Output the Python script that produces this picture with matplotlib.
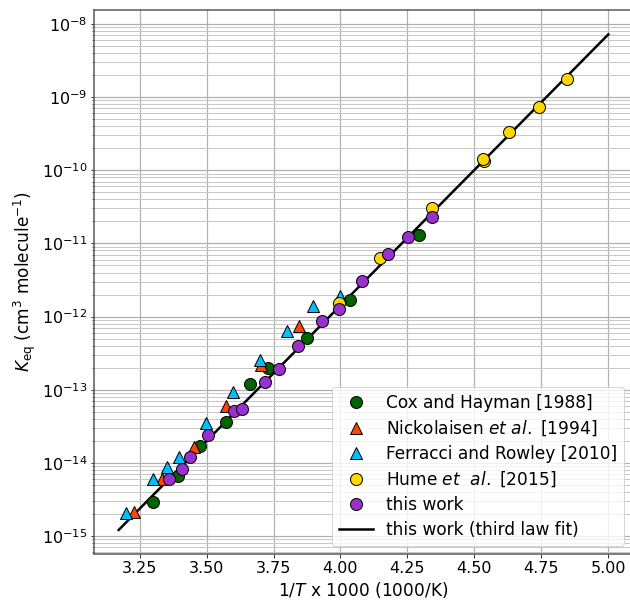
import numpy as np
import matplotlib
matplotlib.use("Agg")
from matplotlib import pyplot as plt

plt.rcParams['font.size'] = 17
plt.rcParams['xtick.labelsize'] = 16
plt.rcParams['ytick.labelsize'] = 16

# 1000/T values and K_eq (cm3 molecule-1)
cox_x = [3.300, 3.392, 3.476, 3.572, 3.663, 3.731, 3.876, 4.034, 4.294]
cox_k = [2.88e-15, 6.7e-15, 1.70e-14, 3.66e-14, 1.20e-13, 1.96e-13, 5.1e-13, 1.68e-12, 1.32e-11]

nick_x = [3.231, 3.334, 3.454, 3.571, 3.703, 3.846]
nick_k = [2.1e-15, 6.1e-15, 1.63e-14, 5.98e-14, 2.18e-13, 7.4e-13]

ferr_x = [3.199, 3.300, 3.354, 3.398, 3.499, 3.598, 3.698, 3.799, 3.897, 3.999]
ferr_k = [2.06e-15, 5.96e-15, 8.85e-15, 1.21e-14, 3.47e-14, 9.2e-14, 2.55e-13, 6.4e-13, 1.39e-12, 1.93e-12]

hume_x = [3.993, 4.148, 4.341, 4.536, 4.531, 4.631, 4.740, 4.847]
hume_k = [1.52e-12, 6.25e-12, 3.02e-11, 1.33e-10, 1.41e-10, 3.33e-10, 7.4e-10, 1.79e-9]

this_x = [3.361, 3.408, 3.437, 3.507, 3.601, 3.634, 3.720, 3.771, 3.843, 3.932,
          3.995, 4.081, 4.177, 4.251, 4.341]
this_k = [6.07e-15, 8.2e-15, 1.19e-14, 2.40e-14, 5.12e-14, 5.45e-14, 1.26e-13, 1.92e-13,
          3.96e-13, 8.6e-13, 1.27e-12, 3.06e-12, 7.2e-12, 1.21e-11, 2.32e-11]

# third law fit, straight line on the log axis
fit_x = [3.172, 5.000]
fit_k = [1.21e-15, 7.2e-9]

fig = plt.figure(figsize=(630 / 72, 601 / 72), dpi=72)
ax = fig.add_axes([0.1497, 0.0782, 0.8546, 0.9052])

mkw = dict(linestyle='none', markersize=12, markeredgecolor='k', markeredgewidth=1, zorder=3)
ax.plot(cox_x, cox_k, marker='o', color='#006400', label='Cox and Hayman [1988]', **mkw)
ax.plot(nick_x, nick_k, marker='^', color='#FF4500', label=r'Nickolaisen $et$ $al.$ [1994]', **mkw)
ax.plot(ferr_x, ferr_k, marker='^', color='#00BFFF', label='Ferracci and Rowley [2010]', **mkw)
ax.plot(hume_x, hume_k, marker='o', color='#FFD700', label=r'Hume $et$  $al.$ [2015]', **mkw)
ax.plot(this_x, this_k, marker='o', color='#9932CC', label='this work', **mkw)
ax.plot(fit_x, fit_k, color='k', lw=2.5, label='this work (third law fit)', zorder=2)

ax.set_yscale('log')
ax.set_xlim(3.081, 5.091)
ax.set_ylim(10 ** -15.246, 10 ** -7.809)
ax.set_xticks([3.25, 3.5, 3.75, 4.0, 4.25, 4.5, 4.75, 5.0])
ax.grid(True, which='major', color='#b0b0b0', lw=1.2)
ax.grid(True, which='minor', axis='y', color='#c8c8c8', lw=1)
ax.set_axisbelow(True)
for s in ax.spines.values():
    s.set_color('#555555')
    s.set_linewidth(1.5)

ax.set_xlabel(r'1/$T$ x 1000 (1000/K)')
ax.set_ylabel(r'$K_{\rm eq}$ (cm$^3$ molecule$^{-1}$)')
ax.legend(loc='lower right', labelspacing=0.4)

fig.savefig('out.png', dpi=72)
